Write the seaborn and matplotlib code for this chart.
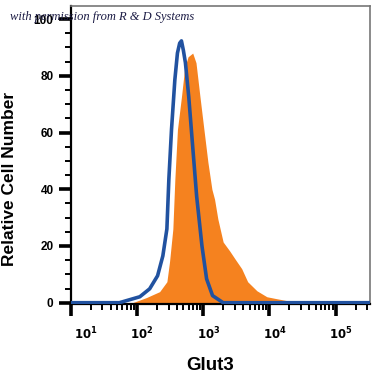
import numpy as np
import matplotlib
matplotlib.use('Agg')
import matplotlib.pyplot as plt
import matplotlib.transforms as mtransforms
from matplotlib.ticker import LogLocator, MultipleLocator, FixedLocator
import seaborn as sns

# isotype control (blue outline)
control_x = [10, 54, 110, 155, 204, 245, 282, 302, 331, 372, 407, 440, 468,
             500, 537, 603, 692, 794, 955, 1122, 1380, 1995, 330000]
control_y = [0, 0, 2.1, 4.9, 9.5, 16.5, 26, 43.5, 61, 78.6, 88, 91.5, 92.3,
             89, 84.6, 72.6, 55, 37.5, 20, 8.4, 2.5, 0, 0]

# Glut3 stained (orange filled)
glut3_x = [85, 138, 219, 282, 309, 347, 372, 407, 468, 525, 589, 692, 776,
           891, 1023, 1175, 1349, 1479, 1660, 1995, 2512, 3020, 3802, 4677,
           6457, 9120, 12880, 18620, 24550]
glut3_y = [0, 1.8, 3.9, 7.4, 14.4, 26, 43.5, 61, 72.6, 83, 86.7, 88, 84.6,
           72.6, 61, 49.5, 40, 36.5, 29.5, 21.4, 18.2, 15.4, 12, 7.4,
           4.2, 2.1, 1.4, 0.7, 0]

y_ticks = [0, 20, 40, 60, 80, 100]
x_ticks = [10, 100, 1000, 10000, 100000]
x_ticklabels = [r'$\mathbf{10^{1}}$', r'$\mathbf{10^{2}}$', r'$\mathbf{10^{3}}$',
                r'$\mathbf{10^{4}}$', r'$\mathbf{10^{5}}$']

sns.set_style('ticks')
plt.rcParams['font.family'] = ['Liberation Sans', 'DejaVu Sans']
plt.rcParams['text.color'] = 'black'
plt.rcParams['axes.labelcolor'] = 'black'
plt.rcParams['xtick.color'] = 'black'
plt.rcParams['ytick.color'] = 'black'

fig = plt.figure(figsize=(3.75, 3.75), dpi=100)
ax = fig.add_axes([0.189, 0.189, 0.798, 0.795])

orange = '#f5821f'
blue = '#2152a0'

ax.fill_between(glut3_x, glut3_y, 0, color=orange, linewidth=0, zorder=2)
sns.lineplot(x=control_x, y=control_y, ax=ax, color=blue, linewidth=2.6,
             sort=False, estimator=None, zorder=3, solid_joinstyle='round')

ax.set_xscale('log')
ax.set_xlim(10, 10 ** 5.52)
ax.set_ylim(-0.5, 104.6)

# axis ticks
ax.set_yticks(y_ticks)
ax.yaxis.set_minor_locator(MultipleLocator(5))
ax.xaxis.set_major_locator(FixedLocator(x_ticks))
ax.xaxis.set_minor_locator(LogLocator(base=10, subs=np.arange(2, 10)))
ax.set_xticklabels(x_ticklabels)
ax.tick_params(axis='both', which='major', length=8.5, width=2.6, color='black',
               labelsize=8.5, labelcolor='black', direction='out')
ax.tick_params(axis='both', which='minor', length=4.5, width=1.4, color='black',
               direction='out')
ax.tick_params(axis='x', which='major', pad=7)
ax.tick_params(axis='y', which='major', pad=4)
for lab in ax.get_yticklabels():
    lab.set_fontweight('bold')

# shift x labels a bit to the right like the original
for i, lab in enumerate(ax.get_xticklabels()):
    shift = 15 if i == 0 else 5
    offset = mtransforms.ScaledTranslation(shift / 100, 0, fig.dpi_scale_trans)
    lab.set_transform(lab.get_transform() + offset)

# frame: black left/bottom, gray top/right
for side in ['left', 'bottom']:
    ax.spines[side].set_color('black')
    ax.spines[side].set_linewidth(1.6)
for side in ['top', 'right']:
    ax.spines[side].set_visible(True)
    ax.spines[side].set_color('#777777')
    ax.spines[side].set_linewidth(1.2)

ax.set_xlabel('Glut3', fontsize=13.5, fontweight='bold', color='black')
ax.set_ylabel('Relative Cell Number', fontsize=12.5, fontweight='bold', color='black')
ax.xaxis.set_label_coords(0.465, -0.178)
ax.yaxis.set_label_coords(-0.18, 0.42)

# watermark
fig.text(0.027, 0.955, 'with permission from R & D Systems', fontsize=9,
         family='Liberation Serif', style='italic', color='#1c1c45',
         ha='left', va='center')

plt.savefig('out.png', dpi=100)
